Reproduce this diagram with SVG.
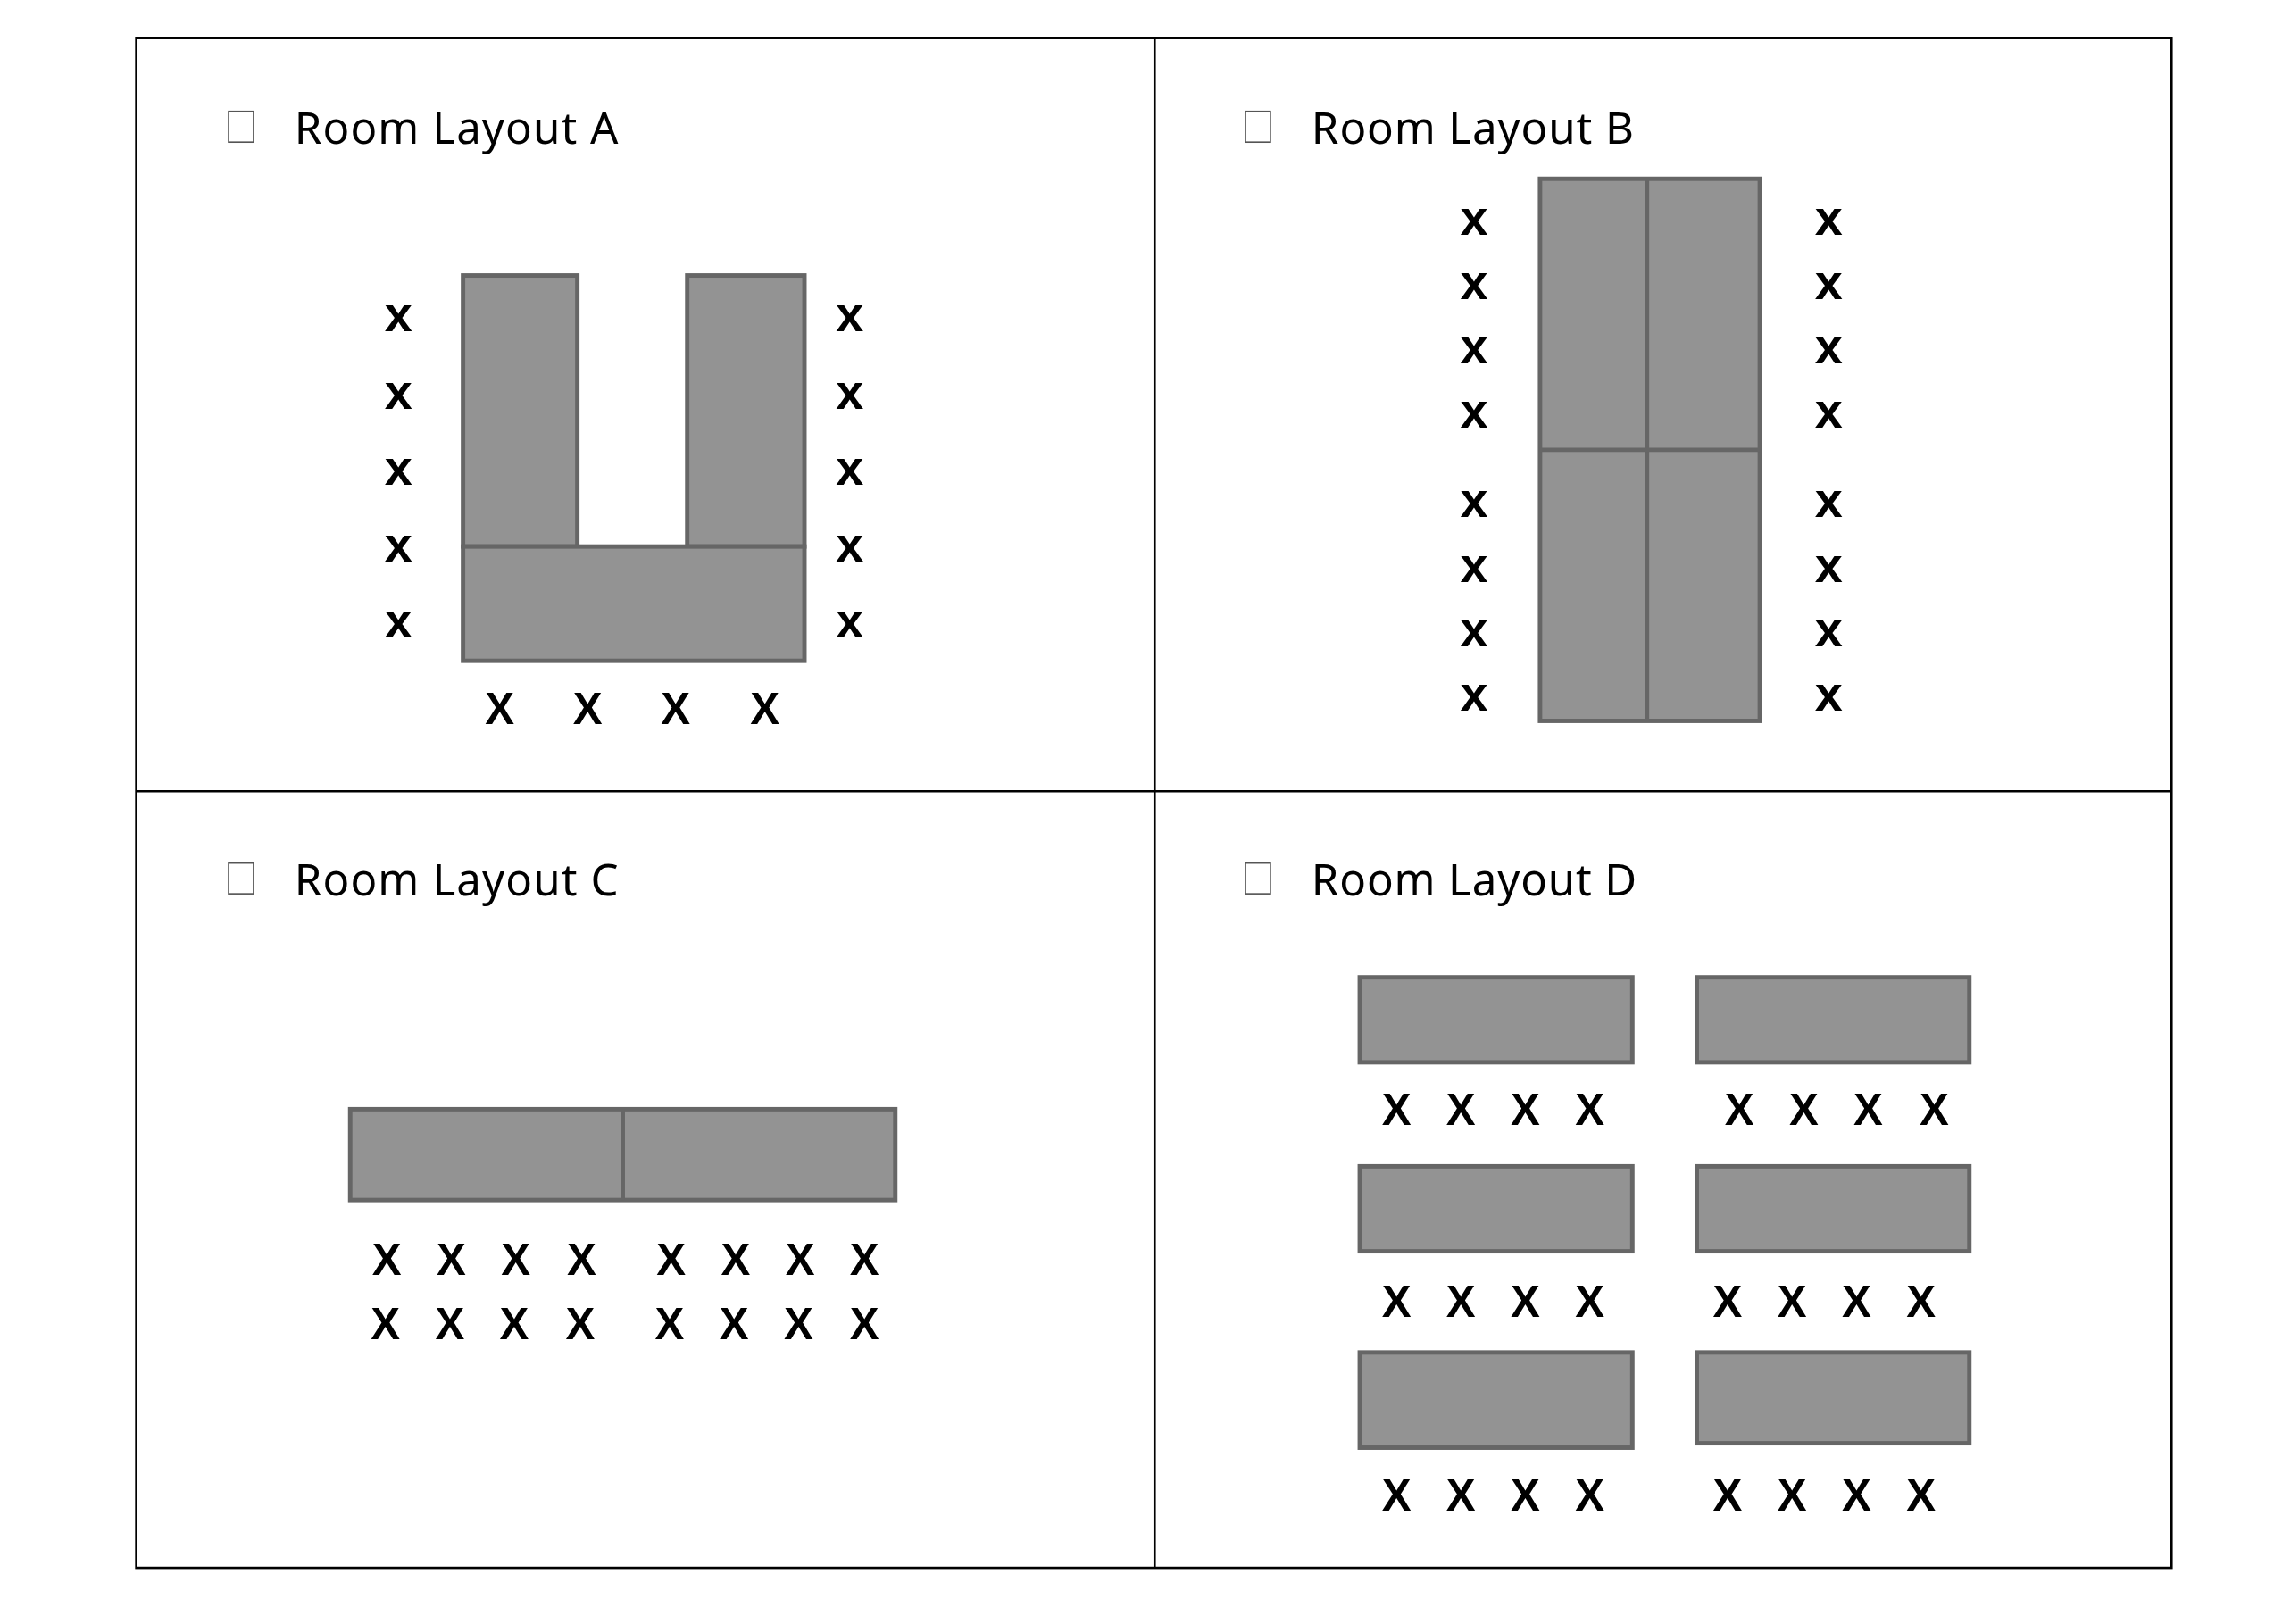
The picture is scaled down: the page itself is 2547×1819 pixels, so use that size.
<svg xmlns="http://www.w3.org/2000/svg" width="2547" height="1819" viewBox="0 0 2547 1819">
<style>
.t{font-family:"Noto Sans","Liberation Sans",sans-serif;font-size:30px;fill:#000}
.cb{fill:#fff;stroke:#555;stroke-width:1}
.tb{fill:#939393;stroke:#666;stroke-width:3}
.div{stroke:#666;stroke-width:3}
.X{font-family:"Liberation Sans",sans-serif;font-weight:bold;font-size:30px;text-anchor:middle;fill:#000}
.x{font-family:"Liberation Sans",sans-serif;font-weight:bold;font-size:34px;text-anchor:middle;fill:#000}
</style>
<rect width="2547" height="1819" fill="#fff"/>
<g transform="scale(1.6412)">
<g id="frame" fill="none" stroke="#000" stroke-width="1.6">
<rect x="93" y="26" width="1389" height="1044"/>
<line x1="788" y1="26" x2="788" y2="1070"/>
<line x1="93" y1="540" x2="1482" y2="540"/>
</g>
<g id="layoutA">
<rect class="cb" x="156" y="76" width="17" height="21"/>
<text class="t" x="201" y="98" textLength="221">Room Layout A</text>
<rect class="tb" x="316" y="188" width="78" height="185"/>
<rect class="tb" x="469" y="188" width="80" height="185"/>
<rect class="tb" x="316" y="373" width="233" height="78"/>
<g class="x">
<text x="272" y="226">x</text><text x="272" y="279">x</text><text x="272" y="331">x</text><text x="272" y="383">x</text><text x="272" y="435">x</text>
<text x="580" y="226">x</text><text x="580" y="279">x</text><text x="580" y="331">x</text><text x="580" y="383">x</text><text x="580" y="435">x</text>
</g>
<g class="X"><text x="341" y="494">X</text><text x="401" y="494">X</text><text x="461" y="494">X</text><text x="522" y="494">X</text></g>
</g>
<g id="layoutB">
<rect class="cb" x="850" y="76" width="17" height="21"/>
<text class="t" x="895" y="98" textLength="220">Room Layout B</text>
<rect class="tb" x="1051" y="122" width="150" height="370"/>
<line class="div" x1="1124" y1="122" x2="1124" y2="492"/>
<line class="div" x1="1051" y1="307" x2="1201" y2="307"/>
<g class="x">
<text x="1006" y="160">x</text><text x="1006" y="204">x</text><text x="1006" y="248">x</text><text x="1006" y="292">x</text><text x="1006" y="353">x</text><text x="1006" y="397">x</text><text x="1006" y="441">x</text><text x="1006" y="485">x</text>
<text x="1248" y="160">x</text><text x="1248" y="204">x</text><text x="1248" y="248">x</text><text x="1248" y="292">x</text><text x="1248" y="353">x</text><text x="1248" y="397">x</text><text x="1248" y="441">x</text><text x="1248" y="485">x</text>
</g>
</g>
<g id="layoutC">
<rect class="cb" x="156" y="589" width="17" height="21"/>
<text class="t" x="201" y="611" textLength="221">Room Layout C</text>
<rect class="tb" x="239" y="757" width="372" height="62"/>
<line class="div" x1="425" y1="757" x2="425" y2="819"/>
<g class="X">
<text x="264" y="870">X</text><text x="308" y="870">X</text><text x="352" y="870">X</text><text x="397" y="870">X</text><text x="458" y="870">X</text><text x="502" y="870">X</text><text x="546" y="870">X</text><text x="590" y="870">X</text>
<text x="263" y="914">X</text><text x="307" y="914">X</text><text x="351" y="914">X</text><text x="396" y="914">X</text><text x="457" y="914">X</text><text x="501" y="914">X</text><text x="545" y="914">X</text><text x="590" y="914">X</text>
</g>
</g>
<g id="layoutD">
<rect class="cb" x="850" y="589" width="17" height="21"/>
<text class="t" x="895" y="611" textLength="222">Room Layout D</text>
<rect class="tb" x="928" y="667" width="186" height="58"/>
<rect class="tb" x="1158" y="667" width="186" height="58"/>
<rect class="tb" x="928" y="796" width="186" height="58"/>
<rect class="tb" x="1158" y="796" width="186" height="58"/>
<rect class="tb" x="928" y="923" width="186" height="65"/>
<rect class="tb" x="1158" y="923" width="186" height="62"/>
<g class="X">
<text x="953" y="768">X</text><text x="997" y="768">X</text><text x="1041" y="768">X</text><text x="1085" y="768">X</text>
<text x="1187" y="768">X</text><text x="1231" y="768">X</text><text x="1275" y="768">X</text><text x="1320" y="768">X</text>
<text x="953" y="899">X</text><text x="997" y="899">X</text><text x="1041" y="899">X</text><text x="1085" y="899">X</text>
<text x="1179" y="899">X</text><text x="1223" y="899">X</text><text x="1267" y="899">X</text><text x="1311" y="899">X</text>
<text x="953" y="1031">X</text><text x="997" y="1031">X</text><text x="1041" y="1031">X</text><text x="1085" y="1031">X</text>
<text x="1179" y="1031">X</text><text x="1223" y="1031">X</text><text x="1267" y="1031">X</text><text x="1311" y="1031">X</text>
</g>
</g>
</g>
</svg>
